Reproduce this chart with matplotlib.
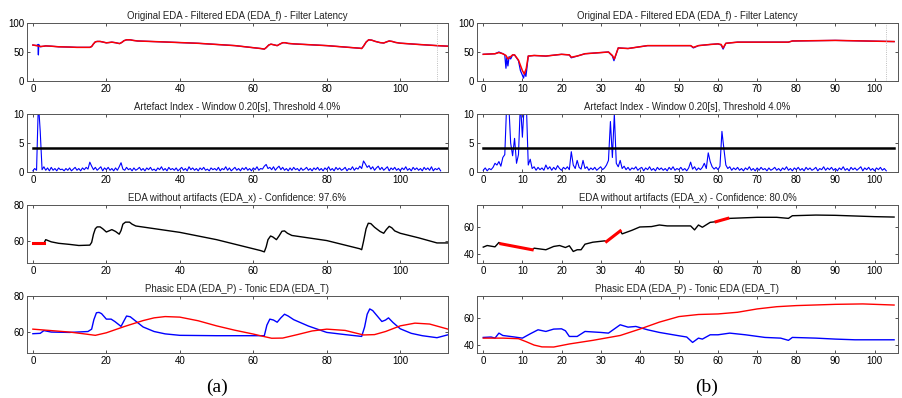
"""Recreate the two-column EDA artefact-removal figure (panels a and b)."""

import matplotlib

matplotlib.use("Agg")
import matplotlib.pyplot as plt

# ---------------- data: column (a) ----------------
a_raw_x = [0, 1, 1.4, 1.5, 1.6, 2, 3, 3.5, 5, 7, 10, 12, 15.5, 16, 16.5, 17, 17.5, 18.3, 19,
           20, 20.7, 21.5, 22.5, 23.6, 24.2, 24.8, 25.5, 26.5, 27.3, 28.5, 35, 45, 55, 62, 63,
           63.5, 64.2, 64.8, 65.5, 66.5, 67.2, 68, 68.7, 69.5, 71, 80, 89, 89.5, 90, 90.7, 91.4,
           92.2, 93.2, 94.5, 95.5, 96.3, 97, 97.8, 98.7, 100, 105, 110, 113]
a_raw_y = [62, 61, 63, 45, 63, 59, 60, 60.5, 60, 59, 58.5, 58, 58, 59.5, 64, 67.5, 68.2, 68.2,
           67.3, 65.8, 66.3, 67, 66, 64.5, 66.5, 69.5, 71, 71, 70, 69, 67.5, 65, 61, 56, 55,
           57.5, 62, 63.5, 62.5, 61, 63.5, 66, 66, 64.8, 64, 61, 56.5, 56, 60, 67, 71, 70.5, 68.3,
           66.2, 65.5, 67.5, 69, 68.2, 66.5, 65.2, 63, 61, 60]
a_filt_x = [0, 1, 2, 3, 3.5, 5, 7, 10, 12, 15.5, 16, 16.5, 17, 17.5, 18.3, 19,
            20, 20.7, 21.5, 22.5, 23.6, 24.2, 24.8, 25.5, 26.5, 27.3, 28.5, 35, 45, 55, 62, 63,
            63.5, 64.2, 64.8, 65.5, 66.5, 67.2, 68, 68.7, 69.5, 71, 80, 89, 89.5, 90, 90.7, 91.4,
            92.2, 93.2, 94.5, 95.5, 96.3, 97, 97.8, 98.7, 100, 105, 110, 113]
a_filt_y = [62, 61, 59.5, 60, 60.5, 60, 59, 58.5, 58, 58, 59.5, 64, 67.5, 68.2, 68.2,
            67.3, 65.8, 66.3, 67, 66, 64.5, 66.5, 69.5, 71, 71, 70, 69, 67.5, 65, 61, 56, 55,
            57.5, 62, 63.5, 62.5, 61, 63.5, 66, 66, 64.8, 64, 61, 56.5, 56, 60, 67, 71, 70.5, 68.3,
            66.2, 65.5, 67.5, 69, 68.2, 66.5, 65.2, 63, 61, 60]
a_latency = 110

# artefact index sampled every 0.5 s
a_art = [0.2, 0.6, 0.3, 12.0, 7.0, 0.4, 0.9, 0.3, 0.7, 0.2,
         0.8, 0.3, 0.6, 0.2, 0.7, 0.4, 0.5, 0.2, 0.6, 0.3,
         0.7, 0.2, 0.5, 0.8, 0.3, 0.6, 0.2, 0.7, 0.4, 0.8,
         0.5, 1.7, 1.0, 0.4, 0.8, 0.3, 0.6, 0.9, 0.2, 0.7,
         0.4, 0.8, 0.3, 0.6, 0.2, 0.7, 0.3, 0.9, 1.6, 0.5,
         0.3, 0.8, 0.4, 0.6, 0.2, 0.7, 0.3, 0.5, 0.8, 0.3,
         0.6, 0.2, 0.7, 0.4, 0.8, 0.3, 0.5, 0.2, 0.7, 0.4,
         0.9, 0.3, 0.6, 0.2, 0.8, 0.4, 0.6, 0.3, 0.7, 0.2,
         0.5, 0.8, 0.3, 0.6, 0.2, 0.9, 0.4, 0.7, 0.3, 0.6,
         0.2, 0.7, 0.4, 0.8, 0.3, 0.5, 0.2, 0.7, 0.4, 0.6,
         0.3, 0.8, 0.2, 0.6, 0.4, 0.9, 0.3, 0.7, 0.2, 0.5,
         0.8, 0.3, 0.6, 0.2, 0.7, 0.4, 0.8, 0.3, 0.6, 0.2,
         0.7, 0.4, 0.9, 0.3, 0.6, 0.5, 1.0, 1.3, 0.6, 0.8,
         0.4, 0.9, 0.3, 0.7, 1.0, 0.4, 0.8, 0.3, 0.6, 0.2,
         0.7, 0.3, 0.8, 0.4, 0.6, 0.2, 0.7, 0.3, 0.5, 0.8,
         0.3, 0.6, 0.2, 0.7, 0.4, 0.8, 0.3, 0.6, 0.2, 0.7,
         0.4, 0.9, 0.3, 0.6, 0.2, 0.8, 0.4, 0.7, 0.3, 0.5,
         0.8, 0.2, 0.6, 0.4, 0.9, 0.3, 0.7, 0.5, 1.0, 0.6,
         1.9, 1.4, 0.8, 1.1, 0.5, 0.9, 0.3, 0.7, 1.0, 0.4,
         0.8, 0.3, 0.6, 0.9, 0.2, 0.7, 0.4, 0.8, 0.3, 0.6,
         0.2, 0.7, 0.4, 0.9, 0.3, 0.6, 0.2, 0.8, 0.4, 0.7,
         0.3, 0.6, 0.2, 0.8, 0.4, 0.7, 0.3, 0.9, 0.2, 0.6,
         0.4, 0.7, 0.2]
a_threshold = 4.1
a_thr_span = [0, 113]

a_clean_x = [0, 3, 3.5, 5, 7, 10, 12.5, 15.5, 16, 16.5, 17, 17.5, 18.3, 19, 20, 20.7, 21.5, 22.5,
             23.5, 24, 24.5, 25.2, 26.3, 27, 28, 40, 50, 62, 63, 63.5, 64, 64.7, 65.3, 66.3, 67,
             67.8, 68.5, 69.3, 70.5, 80, 89, 89.5, 90, 90.7, 91.3, 92, 93, 94.5, 95.5, 96.2, 97,
             97.7, 98.5, 100, 105, 110, 113]
a_clean_y = [59, 59, 61, 59.8, 59, 58.4, 57.8, 58, 59.5, 64, 67, 68, 68, 67, 65.2, 65.8, 66.5,
             65.5, 64, 66, 69.5, 70.6, 70.6, 69.5, 68.5, 65, 61, 55, 54.3, 57, 61, 63, 62.5, 61,
             63, 65.6, 65.8, 64.5, 63.3, 60.5, 56, 55.5, 60, 67, 70, 69.8, 67.8, 65.5, 64.5, 66.5,
             68.3, 67.5, 65.8, 64.5, 62, 59.2, 59.2]
a_bad_x = [0, 3]
a_bad_y = [59.2, 59.2]

a_phasic_x = [0, 2, 3, 5, 10, 15, 16, 16.6, 17.3, 18, 18.7, 20, 21.3, 22.3, 24, 24.7, 25.5, 26.5,
              27.5, 30, 33, 36, 40, 50, 63, 63.7, 64.5, 65.5, 66.5, 67.5, 68.5, 69.5, 71, 75,
              80, 85, 89.5, 90.3, 91, 91.7, 92.5, 93.5, 95, 96, 96.8, 98, 100, 103, 106, 110, 113]
a_phasic_y = [59.3, 59.5, 61, 60.2, 60, 60.5, 61.8, 67, 70.8, 71, 70.3, 67.3, 67.3, 66, 63.3, 66,
              69, 68.6, 67, 63, 60.5, 59.2, 58.4, 58.2, 58.2, 64, 67.3, 66.8, 65.6, 68, 70, 69,
              67, 63.5, 60, 58.8, 57.8, 63, 70, 72.9, 72, 69.6, 66, 66.8, 68, 65.5, 62, 59.5, 58.2,
              57.1, 58.7]
a_tonic_x = [0, 10, 14, 17, 20, 25, 30, 33, 36, 40, 45, 50, 55, 60, 63, 65, 68, 72, 76, 80, 85,
             88, 90, 93, 96, 100, 104, 108, 113]
a_tonic_y = [61.8, 60.2, 59.2, 58.4, 59.8, 63.3, 66.5, 68, 68.7, 68.4, 66.4, 63.6, 61.2, 59.1,
             57.7, 56.8, 56.9, 58.8, 60.8, 61.8, 61.1, 59.6, 58.6, 58.8, 60.5, 63.6, 65.1, 64.6,
             61.8]

# ---------------- data: column (b) ----------------
b_raw_x = [0, 3, 4, 5, 5.5, 5.8, 6.0, 6.3, 6.6, 7, 7.5, 8, 9, 9.5, 10, 10.3, 10.6, 10.9, 11.2,
           11.5, 13, 16, 20, 22, 22.5, 24, 26, 30, 32, 33, 33.4, 34.5, 37, 40, 42, 50, 53, 53.7,
           55, 58, 60, 60.8, 61.3, 62, 65, 70, 78, 79, 90, 105]
b_raw_y = [46, 47, 50, 47, 45, 22, 40, 26, 42, 38, 45, 45, 35, 18, 10, 5, 15, 8, 25,
           43, 44, 43, 46, 45, 40, 43, 47, 49, 50, 43, 35, 57, 56, 59, 61, 61, 61, 57,
           61, 63, 64, 62, 55, 65, 67, 67, 67, 69, 70, 68]
b_filt_x = [0, 3, 4, 5, 5.8, 6.3, 7, 7.5, 8, 9, 10, 10.5, 11, 11.5, 13, 16, 20, 22, 22.5, 24,
            26, 30, 32, 33, 33.5, 34.5, 37, 40, 42, 50, 53, 53.7, 55, 58, 60, 60.8, 61.3, 62, 65,
            70, 78, 79, 90, 105]
b_filt_y = [46, 47, 49, 47, 44, 38, 42, 45, 45, 36, 18, 12, 22, 43, 44, 43, 46, 45, 41, 43,
            47, 49, 50, 44, 38, 57, 56, 59, 61, 61, 61, 58, 61, 63, 64, 63, 57, 65, 67,
            67, 67, 69, 70, 68]
b_latency = 103

b_art = [0.3, 0.7, 0.2, 0.6, 0.4, 0.8, 1.5, 1.2, 1.8, 1.0,
         2.5, 3.0, 12.0, 12.0, 5.0, 2.8, 5.8, 1.5, 3.0, 12.0,
         6.0, 12.0, 12.0, 1.2, 2.2, 0.6, 0.9, 0.3, 0.8, 0.4,
         0.7, 0.3, 1.2, 0.5, 0.9, 0.3, 0.8, 0.4, 1.1, 0.6,
         0.3, 0.8, 0.5, 0.9, 0.4, 3.5, 1.2, 0.6, 2.0, 0.8,
         0.5, 2.0, 0.6, 0.9, 0.3, 0.7, 0.4, 0.8, 0.3, 0.6,
         0.9, 0.4, 0.7, 1.2, 2.0, 8.7, 2.5, 10.0, 1.5, 0.9,
         2.0, 0.6, 1.0, 0.4, 0.8, 0.3, 0.7, 0.5, 0.9, 0.3,
         0.6, 0.8, 0.2, 0.7, 0.4, 0.9, 0.3, 0.6, 0.2, 0.8,
         0.4, 0.7, 0.3, 0.6, 0.2, 0.8, 0.4, 0.9, 0.3, 0.6,
         0.4, 0.8, 0.3, 0.6, 0.2, 0.7, 1.7, 0.5, 0.9, 0.3,
         0.7, 0.4, 0.8, 1.5, 0.6, 3.3, 1.8, 0.9, 0.5, 0.8,
         0.4, 1.0, 7.0, 4.0, 1.2, 0.6, 0.9, 0.3, 0.7, 0.4,
         0.8, 0.3, 0.6, 0.2, 0.7, 0.4, 0.9, 0.3, 0.6, 0.2,
         0.7, 0.3, 0.8, 0.4, 0.6, 0.2, 0.7, 0.3, 0.5, 0.8,
         0.3, 0.6, 0.2, 0.7, 0.4, 0.9, 0.3, 0.6, 0.2, 0.7,
         0.4, 0.8, 0.3, 0.6, 0.2, 0.8, 0.4, 0.7, 0.3, 0.5,
         0.8, 0.2, 0.6, 0.4, 0.9, 0.3, 0.7, 0.4, 0.8, 0.3,
         0.6, 0.2, 0.7, 0.4, 0.9, 0.3, 0.6, 0.2, 0.8, 0.4,
         0.7, 0.3, 0.6, 0.9, 0.2, 0.7, 0.4, 0.8, 0.3, 0.6,
         0.2, 0.7, 0.4, 0.8, 0.3, 0.6, 0.2]
b_threshold = 4.1
b_thr_span = [0, 105]

b_clean_x = [0, 1, 2, 3, 4, 4.5, 12.5, 13, 16, 18, 19.5, 21, 22, 23, 24, 25, 26, 28, 31, 31.5,
             35, 35.5, 38, 40, 43, 45, 47, 53, 54, 55, 56, 58, 59.5, 62.5, 63, 70, 75, 78, 79,
             85, 90, 95, 100, 105]
b_clean_y = [45, 46.2, 45.7, 45.2, 48.5, 47.5, 43, 44.2, 43, 45.5, 46.2, 44.7, 46, 41.7, 43,
             43, 47.2, 48.7, 49.7, 49.2, 57.2, 55, 57.7, 60.2, 60.5, 61.7, 61, 61, 58, 61.7,
             60, 63.7, 64.2, 66.7, 66.7, 67.5, 67.5, 66.7, 68.7, 69.2, 69, 68.5, 68, 67.7]
b_bad_segments = [([4.5, 12.5], [47.5, 43]), ([31.5, 35], [49.2, 57.2]), ([59.5, 62.5], [64.2, 66.7])]

b_phasic_x = [0, 2, 3, 4, 5, 8, 10, 12, 14, 16, 18, 20, 21, 22, 24, 26, 30, 32, 35, 37, 39, 42,
              45, 50, 52, 53.5, 55, 56, 58, 60, 63, 67, 72, 76, 78, 79, 85, 90, 95, 100, 105]
b_phasic_y = [45.7, 46, 45.2, 48.8, 47.1, 46, 45.2, 48.3, 51.2, 50, 51.7, 51.9, 50.5, 46.4, 46.4,
              50, 49.3, 48.8, 54.8, 53.1, 53.6, 51.2, 49.3, 46.9, 46, 42.1, 45.2, 44.5, 47.6,
              47.6, 48.8, 47.6, 45.7, 45.2, 43.6, 45.7, 45.2, 44.5, 44, 44, 44]
b_tonic_x = [0, 5, 9, 11, 13, 15, 18, 22, 28, 35, 40, 45, 50, 55, 60, 65, 70, 75, 80, 90, 97, 105]
b_tonic_y = [45.2, 45.2, 44.8, 42.6, 40.2, 38.9, 38.8, 41, 43.6, 47.1, 51.7, 56.7, 60.7, 62.2,
             62.6, 63.8, 66.2, 67.8, 68.6, 69.5, 69.8, 69]

TITLES = [
    "Original EDA - Filtered EDA (EDA_f) - Filter Latency",
    "Artefact Index - Window 0.20[s], Threshold 4.0%",
    "EDA without artifacts (EDA_x) - Confidence: {}",
    "Phasic EDA (EDA_P) - Tonic EDA (EDA_T)",
]

plt.rcParams["font.family"] = ["Liberation Sans", "DejaVu Sans"]

W, H = 903, 398
fig = plt.figure(figsize=(W / 100, H / 100), dpi=100)

col_left = [27 / W, 477 / W]
col_width = 421 / W
row_px = [(23, 81), (114, 172), (205, 263), (296, 353)]


def make_ax(col, row):
    top, bottom = row_px[row]
    ax = fig.add_axes([col_left[col], 1 - bottom / H, col_width, (bottom - top) / H])
    ax.tick_params(direction="in", length=2.5, width=0.6, labelsize=7, pad=2,
                   top=True, right=True, colors="#333333", labelcolor="black")
    for s in ax.spines.values():
        s.set_linewidth(0.7)
        s.set_color("#555555")
    return ax


def style_title(ax, text):
    ax.set_title(text, fontsize=6.9, pad=3, color="#222222")


columns = [
    dict(raw=(a_raw_x, a_raw_y), filt=(a_filt_x, a_filt_y), latency=a_latency, art=a_art,
         thr=a_threshold, thr_span=a_thr_span, clean=(a_clean_x, a_clean_y),
         bad=[(a_bad_x, a_bad_y)], phasic=(a_phasic_x, a_phasic_y), tonic=(a_tonic_x, a_tonic_y),
         conf="97.6%", xlim=(-1.6, 113), xticks=range(0, 101, 20),
         ylim3=(48.2, 80), yticks3=[60, 80], ylim4=(48.7, 80), yticks4=[60, 80], label="(a)"),
    dict(raw=(b_raw_x, b_raw_y), filt=(b_filt_x, b_filt_y), latency=b_latency, art=b_art,
         thr=b_threshold, thr_span=b_thr_span, clean=(b_clean_x, b_clean_y),
         bad=b_bad_segments, phasic=(b_phasic_x, b_phasic_y), tonic=(b_tonic_x, b_tonic_y),
         conf="80.0%", xlim=(-1.6, 106), xticks=range(0, 101, 10),
         ylim3=(33, 76.8), yticks3=[40, 60], ylim4=(34.5, 75.5), yticks4=[40, 60], label="(b)"),
]

for c, d in enumerate(columns):
    # row 1: original vs filtered
    ax = make_ax(c, 0)
    ax.plot(*d["raw"], color="blue", lw=0.9)
    ax.plot(*d["filt"], color="red", lw=1.1)
    ax.axvline(d["latency"], color="#aaaaaa", lw=0.6, ls=":")
    ax.set_ylim(0, 100)
    ax.set_yticks([0, 50, 100])
    style_title(ax, TITLES[0])

    # row 2: artefact index
    ax = make_ax(c, 1)
    art_x = [i * 0.5 for i in range(len(d["art"]))]
    ax.plot(art_x, d["art"], color="blue", lw=0.8)
    ax.plot(d["thr_span"], [d["thr"], d["thr"]], color="black", lw=1.8)
    ax.set_ylim(0, 10)
    ax.set_yticks([0, 5, 10])
    style_title(ax, TITLES[1])

    # row 3: cleaned EDA with replaced segments in red
    ax = make_ax(c, 2)
    ax.plot(*d["clean"], color="black", lw=1.0)
    for bx, by in d["bad"]:
        ax.plot(bx, by, color="red", lw=2.2)
    ax.set_ylim(*d["ylim3"])
    ax.set_yticks(d["yticks3"])
    style_title(ax, TITLES[2].format(d["conf"]))

    # row 4: phasic / tonic
    ax = make_ax(c, 3)
    ax.plot(*d["phasic"], color="blue", lw=1.0)
    ax.plot(*d["tonic"], color="red", lw=1.0)
    ax.set_ylim(*d["ylim4"])
    ax.set_yticks(d["yticks4"])
    style_title(ax, TITLES[3])

    for ax in fig.axes[c * 4:(c + 1) * 4]:
        ax.set_xlim(*d["xlim"])
        ax.set_xticks(list(d["xticks"]))

fig.text(217 / W, 1 - 387 / H, "(a)", family=["Liberation Serif", "DejaVu Serif"],
         fontsize=14, ha="center", va="center")
fig.text(707 / W, 1 - 387 / H, "(b)", family=["Liberation Serif", "DejaVu Serif"],
         fontsize=14, ha="center", va="center")

fig.savefig("out.png", dpi=100, facecolor="white")
